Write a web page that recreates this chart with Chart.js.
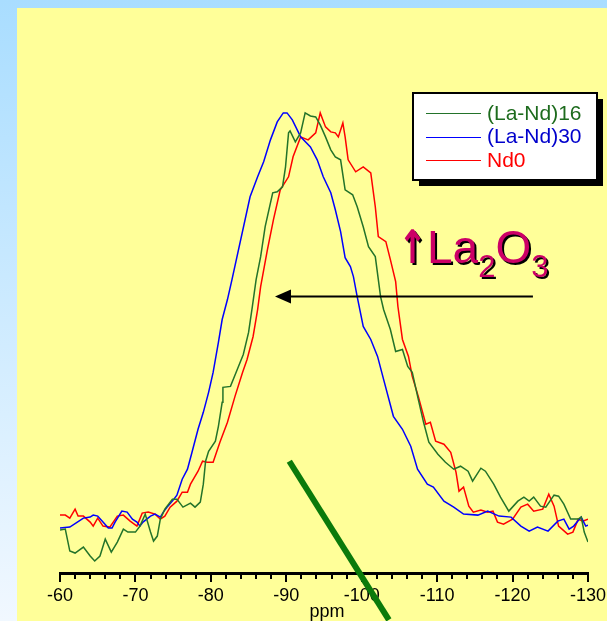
<!DOCTYPE html>
<html>
<head>
<meta charset="utf-8">
<title>NMR spectra</title>
<script src="https://cdn.jsdelivr.net/npm/chart.js@4/dist/chart.umd.min.js"></script>
<style>
    html, body { margin: 0; padding: 0; background: #ffffff; }
    #wrap { width: 607px; height: 621px; }
</style>
</head>
<body>
<div id="wrap"><canvas id="nmrChart" width="607" height="621"></canvas></div>
<script>
// Series data (ppm, intensity in arbitrary units)
const seriesLabels = ['(La-Nd)16', '(La-Nd)30', 'Nd0'];
const seriesColors = ['#23732a', '#0000ff', '#ff0000'];
const legendTextColors = ['#1d6b1d', '#0000cc', '#ff0000'];

const ppm16 = [-60.0, -60.7, -61.3, -62.0, -63.1, -64.0, -64.6, -65.3, -66.0, -66.8, -67.6, -68.4, -69.0, -70.0, -70.6, -71.3, -72.0, -72.4, -72.9, -73.3, -73.9, -74.9, -75.5, -76.3, -77.3, -77.9, -78.6, -79.0, -79.3, -79.7, -80.6, -81.0, -81.5, -81.6, -82.6, -83.5, -84.3, -85.0, -85.5, -86.0, -86.6, -87.2, -88.2, -88.8, -89.5, -89.9, -90.3, -90.5, -91.2, -91.9, -92.5, -93.2, -93.9, -94.5, -95.2, -95.9, -96.5, -97.2, -97.8, -98.8, -99.4, -100.2, -100.9, -101.8, -102.5, -102.9, -103.8, -104.5, -105.4, -106.1, -106.7, -107.5, -108.2, -108.9, -110.1, -111.1, -112.2, -113.1, -114.1, -114.7, -115.8, -116.4, -117.5, -118.4, -119.5, -120.7, -121.5, -122.2, -122.8, -123.7, -124.4, -125.5, -126.1, -126.8, -127.7, -128.7, -129.1, -129.5, -130.0];
const int16 = [43, 44, 22, 20, 26, 17, 12, 17, 34, 21, 31, 44, 41, 41, 47, 59, 41, 32, 37, 54, 64, 74, 74, 66, 70, 66, 71, 89, 112, 122, 132, 147, 171, 186, 187, 204, 219, 241, 267, 294, 317, 347, 381, 382, 387, 407, 441, 443, 432, 441, 461, 458, 457, 449, 437, 424, 417, 414, 384, 379, 367, 347, 327, 317, 277, 264, 244, 222, 224, 207, 201, 174, 151, 131, 119, 111, 104, 107, 102, 92, 105, 102, 89, 76, 62, 72, 76, 72, 76, 67, 66, 78, 77, 69, 54, 54, 56, 41, 31];

const ppm30 = [-60.0, -61.3, -62.3, -63.1, -64.0, -64.4, -65.0, -65.7, -66.4, -66.9, -67.3, -68.2, -68.9, -69.6, -70.2, -70.6, -71.0, -72.0, -72.6, -73.3, -73.7, -74.3, -75.0, -75.5, -76.2, -76.9, -77.5, -78.3, -79.0, -79.7, -80.3, -81.0, -81.5, -82.2, -82.8, -85.2, -86.2, -87.0, -87.9, -88.8, -89.6, -90.1, -90.8, -91.9, -93.2, -94.1, -94.9, -95.9, -96.5, -97.2, -97.8, -98.5, -98.9, -99.4, -100.2, -101.2, -102.1, -102.9, -104.2, -105.4, -106.5, -107.4, -108.7, -109.5, -110.9, -112.2, -113.5, -115.4, -116.7, -118.2, -119.8, -121.1, -122.2, -123.3, -124.7, -126.0, -126.8, -127.5, -128.1, -129.1, -129.7, -130.0];
const int30 = [45, 46, 51, 55, 56, 58, 57, 51, 45, 45, 51, 62, 61, 54, 51, 47, 51, 57, 59, 56, 61, 67, 73, 78, 94, 104, 121, 144, 161, 181, 201, 231, 254, 274, 294, 377, 397, 412, 434, 452, 461, 461, 454, 437, 427, 414, 397, 381, 364, 342, 316, 307, 297, 277, 247, 234, 217, 194, 157, 144, 127, 104, 89, 86, 72, 66, 59, 58, 62, 57, 56, 47, 42, 46, 42, 52, 54, 44, 47, 56, 47, 48];

const ppm0 = [-60.0, -60.7, -61.3, -62.0, -62.4, -63.1, -64.0, -64.4, -65.0, -65.7, -66.6, -67.6, -68.4, -69.3, -70.2, -70.9, -71.7, -72.6, -73.3, -73.9, -74.6, -75.5, -76.2, -76.9, -77.3, -78.3, -78.9, -79.5, -80.3, -81.2, -82.2, -83.2, -84.2, -84.8, -85.6, -86.2, -86.6, -87.5, -88.3, -89.2, -90.3, -90.9, -91.9, -92.9, -93.9, -94.5, -95.2, -95.9, -96.5, -96.9, -97.5, -97.8, -98.2, -99.2, -100.2, -101.2, -101.8, -102.2, -103.2, -103.8, -104.5, -104.8, -105.4, -106.2, -106.7, -107.5, -108.5, -109.1, -109.8, -110.9, -111.8, -112.5, -112.9, -113.5, -114.2, -114.8, -115.8, -116.7, -117.4, -118.0, -118.8, -120.0, -121.1, -122.0, -122.8, -124.0, -124.8, -125.5, -126.1, -127.3, -128.0, -128.7, -129.3, -130.0];
const int0 = [58, 58, 55, 64, 57, 57, 51, 47, 55, 47, 46, 57, 58, 52, 47, 60, 61, 59, 54, 57, 66, 72, 81, 81, 89, 102, 112, 111, 111, 131, 151, 177, 201, 214, 237, 264, 287, 324, 354, 384, 397, 417, 437, 434, 441, 461, 447, 442, 441, 437, 451, 437, 414, 402, 407, 401, 367, 337, 332, 314, 292, 267, 234, 217, 197, 177, 149, 151, 132, 129, 121, 101, 82, 86, 67, 61, 63, 61, 62, 51, 49, 54, 66, 69, 62, 64, 79, 67, 47, 39, 41, 54, 52, 54];

// Axis ticks (ppm)
const majorTicks = [-60, -70, -80, -90, -100, -110, -120, -130];
const minorTicks = [-62, -64, -66, -68, -72, -74, -76, -78, -82, -84, -86, -88, -92, -94, -96, -98,
    -102, -104, -106, -108, -112, -114, -116, -118, -122, -124, -126, -128];

// Annotations in data units: shift arrow and the thick green marker
const shiftArrow = { from: [-122.7, 278], to: [-88.5, 278] };
const markerLine = { from: [-90.4, 112], to: [-103.6, -47] };

const FONT = "'Liberation Sans', Arial, Helvetica, sans-serif";

function toPoints(xs, ys) {
    return xs.map((x, i) => ({ x: x, y: ys[i] }));
}

/**
 * Background: blue frame with yellow panel
 */
const backgroundPlugin = {
    id: 'slideBackground',
    beforeDraw(chart) {
        const ctx = chart.ctx;
        const w = chart.width, h = chart.height;
        ctx.save();
        const grad = ctx.createLinearGradient(0, 0, 0, h);
        grad.addColorStop(0, '#a9ddff');
        grad.addColorStop(1, '#f1f8ff');
        ctx.fillStyle = grad;
        ctx.fillRect(0, 0, w, h);
        ctx.fillStyle = '#ffff99';
        ctx.fillRect(17, 8, w - 17, h - 8);
        ctx.restore();
    }
};

/**
 * Axis tick marks, axis title, legend box and annotations
 */
const decorPlugin = {
    id: 'decor',
    afterDraw(chart) {
        const ctx = chart.ctx;
        const xs = chart.scales.x;
        const ys = chart.scales.y;
        const base = chart.chartArea.bottom;

        ctx.save();

        // tick marks pointing down from the axis line
        ctx.strokeStyle = '#000';
        ctx.lineWidth = 2;
        majorTicks.forEach(v => {
            const px = Math.round(xs.getPixelForValue(v));
            ctx.beginPath();
            ctx.moveTo(px, base);
            ctx.lineTo(px, base + 9);
            ctx.stroke();
        });
        minorTicks.forEach(v => {
            const px = Math.round(xs.getPixelForValue(v));
            ctx.beginPath();
            ctx.moveTo(px, base);
            ctx.lineTo(px, base + 6);
            ctx.stroke();
        });

        // axis title, tucked right under the tick labels
        ctx.fillStyle = '#000';
        ctx.font = '18px ' + FONT;
        ctx.textAlign = 'center';
        ctx.textBaseline = 'alphabetic';
        ctx.fillText('ppm', (chart.chartArea.left + chart.chartArea.right) / 2 + 3, base + 44);

        // thick green marker line
        ctx.strokeStyle = '#0b7a0b';
        ctx.lineWidth = 6;
        ctx.beginPath();
        ctx.moveTo(xs.getPixelForValue(markerLine.from[0]), ys.getPixelForValue(markerLine.from[1]));
        ctx.lineTo(xs.getPixelForValue(markerLine.to[0]), ys.getPixelForValue(markerLine.to[1]));
        ctx.stroke();

        // shift arrow
        const ax0 = xs.getPixelForValue(shiftArrow.from[0]);
        const ax1 = xs.getPixelForValue(shiftArrow.to[0]);
        const ay = Math.round(ys.getPixelForValue(shiftArrow.from[1])) + 0.5;
        ctx.strokeStyle = '#000';
        ctx.lineWidth = 2;
        ctx.beginPath();
        ctx.moveTo(ax0, ay);
        ctx.lineTo(ax1 + 12, ay);
        ctx.stroke();
        ctx.fillStyle = '#000';
        ctx.beginPath();
        ctx.moveTo(ax1, ay);
        ctx.lineTo(ax1 + 16, ay - 7);
        ctx.lineTo(ax1 + 16, ay + 7);
        ctx.closePath();
        ctx.fill();

        // "↑La2O3" label with shadow
        drawFormula(ctx, 398, 263);

        // legend box
        const lx = 413, ly = 93, lw = 184, lh = 87;
        ctx.fillStyle = '#000';
        ctx.fillRect(lx + 6, ly + 6, lw, lh);
        ctx.fillStyle = '#fff';
        ctx.fillRect(lx, ly, lw, lh);
        ctx.strokeStyle = '#000';
        ctx.lineWidth = 2;
        ctx.strokeRect(lx, ly, lw, lh);

        ctx.font = '21px ' + FONT;
        ctx.textBaseline = 'middle';
        ctx.textAlign = 'left';
        chart.data.datasets.forEach((ds, i) => {
            const ry = 113 + i * 23.5;
            ctx.strokeStyle = ds.borderColor;
            ctx.lineWidth = 1;
            ctx.beginPath();
            ctx.moveTo(426, Math.round(ry) + 0.5);
            ctx.lineTo(481, Math.round(ry) + 0.5);
            ctx.stroke();
            ctx.fillStyle = legendTextColors[i];
            ctx.fillText(ds.label, 487, ry + 1);
        });

        ctx.restore();
    }
};

function drawFormula(ctx, x, y) {
    const parts = [
        { t: '\u2191', size: 46, dy: 0, font: "bold 46px 'DejaVu Sans', sans-serif", w: 29 },
        { t: 'La', size: 46, dy: 0 },
        { t: '2', size: 31, dy: 14 },
        { t: 'O', size: 46, dy: 0 },
        { t: '3', size: 31, dy: 14 }
    ];
    ctx.textBaseline = 'alphabetic';
    ctx.textAlign = 'left';
    [['#000', 2], ['#cc0066', 0]].forEach(([color, off]) => {
        let cx = x;
        ctx.fillStyle = color;
        parts.forEach(p => {
            ctx.font = p.font || (p.size + 'px ' + FONT);
            if (p.w) {
                // narrow the wide arrow glyph to match the slide's shape
                ctx.save();
                const mw = ctx.measureText(p.t).width;
                ctx.translate(cx + off, y + p.dy + off);
                ctx.scale(p.w / mw, 1);
                ctx.fillText(p.t, 0, 0);
                ctx.restore();
                cx += p.w;
            } else {
                ctx.fillText(p.t, cx + off, y + p.dy + off);
                cx += ctx.measureText(p.t).width;
            }
        });
    });
}

const ctx = document.getElementById('nmrChart').getContext('2d');

new Chart(ctx, {
    type: 'line',
    data: {
        datasets: [
            { label: seriesLabels[0], data: toPoints(ppm16, int16), borderColor: seriesColors[0] },
            { label: seriesLabels[1], data: toPoints(ppm30, int30), borderColor: seriesColors[1] },
            { label: seriesLabels[2], data: toPoints(ppm0, int0), borderColor: seriesColors[2] }
        ]
    },
    options: {
        responsive: false,
        animation: false,
        events: [],
        layout: {
            padding: { left: 60, right: 19, top: 74, bottom: 2 }
        },
        elements: {
            point: { radius: 0 },
            line: { borderWidth: 1.5, tension: 0, fill: false }
        },
        plugins: {
            legend: { display: false },
            tooltip: { enabled: false }
        },
        scales: {
            x: {
                type: 'linear',
                reverse: true,
                min: -130,
                max: -60,
                grid: { display: false, drawTicks: false },
                border: { display: true, color: '#000', width: 3 },
                afterBuildTicks: scale => {
                    scale.ticks = majorTicks.map(v => ({ value: v }));
                },
                // the layout padding already leaves room for the end labels
                afterFit: scale => {
                    scale.paddingLeft = 0;
                    scale.paddingRight = 0;
                },
                ticks: {
                    color: '#000',
                    padding: 14,
                    maxRotation: 0,
                    autoSkip: false,
                    font: { family: FONT, size: 18, lineHeight: 1 },
                    callback: v => String(v)
                }
            },
            y: {
                display: false,
                min: 0,
                max: 500
            }
        }
    },
    plugins: [backgroundPlugin, decorPlugin]
});
</script>
</body>
</html>
